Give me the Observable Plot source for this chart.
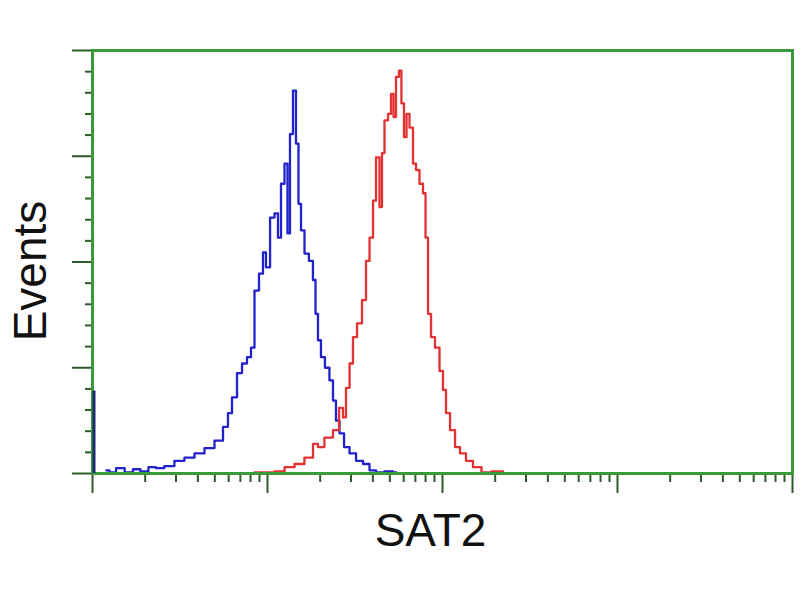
<!DOCTYPE html>
<html>
<head>
<meta charset="utf-8">
<script src="https://cdn.jsdelivr.net/npm/d3@7"></script>
<script src="https://cdn.jsdelivr.net/npm/@observablehq/plot@0.6"></script>
<style>
  html, body { margin: 0; padding: 0; background: #fff; }
  #chart { width: 800px; height: 600px; }
  svg { font-family: "Liberation Sans", Arial, sans-serif; }
</style>
</head>
<body>
<div id="chart"></div>
<script>
// Fluorescence intensity (log scale) and event counts
const controlIntensity = [1.20, 1.30, 1.43, 1.63, 1.78, 1.98, 2.20, 2.41, 2.75, 3.14, 3.58, 4.09, 4.66, 5.32, 5.83, 6.06, 6.48, 6.92, 7.39, 7.89, 8.21, 8.65, 9.24, 9.61, 10.0, 10.7, 11.25, 11.71, 12.18, 12.84, 13.18, 13.71, 14.26, 14.83, 15.24, 15.85, 16.7, 17.8, 18.57, 19.05, 19.82, 20.6, 22.0, 23.2, 24.15, 25.1, 26.5, 28.3, 30.6, 33.6, 36.8, 39.8, 43.6, 49.8, 54.6];
const controlCounts    = [3, 1, 5, 1, 4, 2, 6, 5, 7, 12, 15, 19, 24, 31, 44, 57, 72, 95, 104, 110, 119, 173, 189, 209, 195, 242, 246, 223, 274, 293, 227, 321, 362, 312, 255, 230, 208, 201, 183, 151, 126, 110, 100, 88, 69, 50, 38, 25, 19, 12, 9, 3, 1, 2, 1];

const sat2Intensity = [7.89, 9.0, 10.26, 11.7, 13.4, 15.2, 17.4, 19.05, 19.8, 22.6, 24.8, 26.5, 27.5, 28.7, 30.2, 31.4, 33.6, 35.8, 37.3, 39.3, 40.9, 42.5, 44.8, 45.4, 47.9, 49.8, 51.8, 53.2, 55.3, 57.5, 59.0, 61.5, 63.1, 66.5, 69.2, 71.9, 75.9, 78.9, 81.1, 84.3, 87.7, 93.6, 98.7, 102.6, 106.9, 114.1, 121.9, 130.1, 142.6, 156.4, 178.3, 203.6, 241.5];
const sat2Counts    = [0, 1, 1, 2, 6, 9, 15, 28, 25, 34, 41, 62, 53, 81, 104, 129, 142, 164, 201, 223, 258, 299, 252, 303, 334, 340, 359, 337, 375, 381, 350, 318, 340, 327, 293, 287, 274, 265, 223, 151, 129, 119, 97, 79, 57, 41, 25, 19, 12, 6, 1, 2, 0];

// pile-up of control events in the first channel
const spikeIntensity = [1.02];
const spikeCounts = [78];

// axis ticks
const xMajorTicks = [1, 10, 100, 1000, 10000];
const xMinorTicks = [1, 10, 100, 1000].flatMap(d => [2, 3, 4, 5, 6, 7, 8, 9].map(k => k * d));
const yMajorTicks = [0, 100, 200, 300, 400];
const yMinorTicks = [20, 40, 60, 80, 120, 140, 160, 180, 220, 240, 260, 280, 320, 340, 360, 380];

const xLabel = "SAT2";
const yLabel = "Events";

const control = controlIntensity.map((x, i) => ({x, y: controlCounts[i]}));
const sat2 = sat2Intensity.map((x, i) => ({x, y: sat2Counts[i]}));
const spike = spikeIntensity.map((x, i) => ({x, y: spikeCounts[i]}));

const green = "#3a9a3a";
const tickColor = "#2f5a2a";

const chart = Plot.plot({
  width: 800,
  height: 600,
  marginLeft: 92,
  marginRight: 8,
  marginTop: 50,
  marginBottom: 127,
  style: {fontFamily: "'Liberation Sans', Arial, sans-serif", background: "#fff"},
  x: {type: "log", domain: [1, 10000]},
  y: {domain: [0, 400]},
  marks: [
    Plot.axisX({ticks: xMinorTicks, tickSize: 9, tickFormat: () => "", stroke: tickColor, strokeWidth: 2, label: null}),
    Plot.axisX({ticks: xMajorTicks, tickSize: 20, tickFormat: () => "", stroke: tickColor, strokeWidth: 2, label: null}),
    Plot.axisY({ticks: yMinorTicks, tickSize: 7, tickFormat: () => "", stroke: tickColor, strokeWidth: 2, label: null}),
    Plot.axisY({ticks: yMajorTicks, tickSize: 20, tickFormat: () => "", stroke: tickColor, strokeWidth: 2, label: null}),
    Plot.line(control, {x: "x", y: "y", curve: "step", stroke: "#2222cc", strokeWidth: 2.3}),
    Plot.line(sat2, {x: "x", y: "y", curve: "step", stroke: "#e23232", strokeWidth: 2.3}),
    Plot.frame({stroke: green, strokeWidth: 3}),
    Plot.ruleX(spike, {x: "x", y1: 0, y2: "y", stroke: "#1c2a70", strokeWidth: 3}),
    Plot.text([xLabel], {frameAnchor: "bottom", text: d => d, dx: -12, dy: 58, fontSize: 46, fill: "#111", textAnchor: "middle", lineAnchor: "middle"}),
    Plot.text([yLabel], {frameAnchor: "left", text: d => d, rotate: -90, dx: -61, dy: 9, fontSize: 46, fill: "#111", textAnchor: "middle", lineAnchor: "middle"})
  ]
});
document.getElementById("chart").appendChild(chart);
</script>
</body>
</html>
